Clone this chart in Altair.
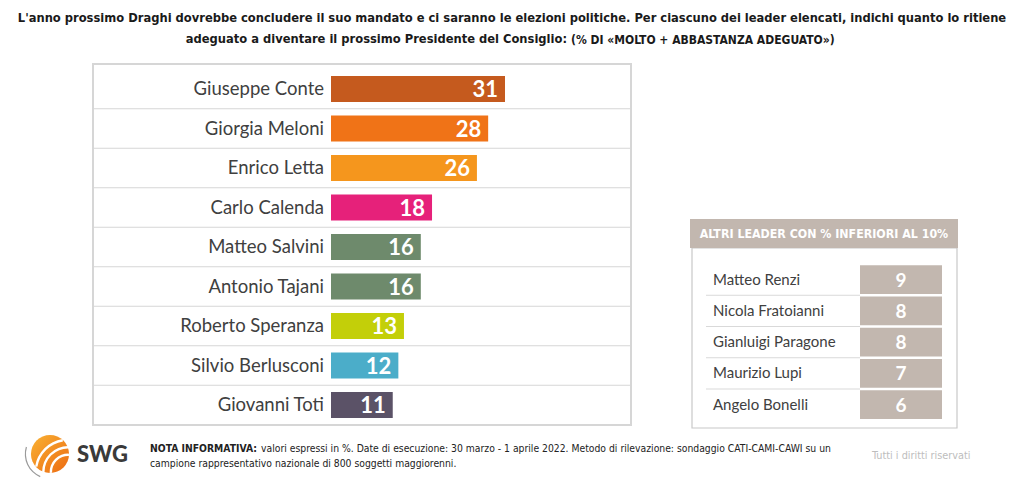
import altair as alt
import pandas as pd

# ---- data -------------------------------------------------------------
leaders = ["Giuseppe Conte", "Giorgia Meloni", "Enrico Letta", "Carlo Calenda",
           "Matteo Salvini", "Antonio Tajani", "Roberto Speranza",
           "Silvio Berlusconi", "Giovanni Toti"]
scores = [31, 28, 26, 18, 16, 16, 13, 12, 11]
bar_colors = ["#C55A1E", "#F07317", "#F5961D", "#E6217A", "#6E8A6C",
              "#6E8A6C", "#C3CF09", "#4BADC9", "#5B5267"]

others = ["Matteo Renzi", "Nicola Fratoianni", "Gianluigi Paragone",
          "Maurizio Lupi", "Angelo Bonelli"]
other_scores = [9, 8, 8, 7, 6]

title_1 = ("L'anno prossimo Draghi dovrebbe concludere il suo mandato e ci saranno le elezioni "
           "politiche. Per ciascuno dei leader elencati, indichi quanto lo ritiene")
title_2a = "adeguato a diventare il prossimo Presidente del Consiglio:"
title_2b = "(% DI «MOLTO + ABBASTANZA ADEGUATO»)"
box_title = "ALTRI LEADER CON % INFERIORI AL 10%"
note_bold = "NOTA INFORMATIVA:"
note_1 = ("valori espressi in %. Date di esecuzione: 30 marzo - 1 aprile 2022. Metodo di "
          "rilevazione: sondaggio CATI-CAMI-CAWI su un")
note_2 = "campione rappresentativo nazionale di 800 soggetti maggiorenni."
rights = "Tutti i diritti riservati"
brand = "SWG"

NARROW = "DejaVu Sans Condensed, DejaVu Sans, sans-serif"
BODY = "Lato, Open Sans, sans-serif"
TEXT_GREY = "#404040"

main = pd.DataFrame({"name": leaders, "value": scores, "color": bar_colors})
minor = pd.DataFrame({"name": others, "value": other_scores})


def one(text):
    return pd.DataFrame({"t": [text]})


# ---- scales -----------------------------------------------------------
x_main = alt.Scale(domain=[0, 31], range=[331, 505], nice=False, zero=True)
y_bars = alt.Scale(domain=leaders, range=[69.25, 424.75],
                   paddingInner=0.34, paddingOuter=0.17)
y_rows = alt.Scale(domain=leaders, range=[69.25, 424.75],
                   paddingInner=0, paddingOuter=0)
y_boxes = alt.Scale(domain=others, range=[264, 420.25],
                    paddingInner=0.08, paddingOuter=0.04)
y_box_rows = alt.Scale(domain=others, range=[264, 420.25],
                       paddingInner=0, paddingOuter=0)

# ---- main panel -------------------------------------------------------
panel = alt.Chart(one("")).mark_rect(fill="white", stroke="#D6D6D6", strokeWidth=2).encode(
    x=alt.value(93), x2=alt.value(631), y=alt.value(64), y2=alt.value(425))

row_lines = alt.Chart(main.iloc[1:]).mark_rule(color="#D6D6D6", strokeWidth=1.2).encode(
    y=alt.Y("name:N", scale=y_rows, axis=None, bandPosition=0),
    x=alt.value(93), x2=alt.value(631))

bars = alt.Chart(main).mark_bar().encode(
    x=alt.X("value:Q", scale=x_main, axis=None),
    y=alt.Y("name:N", scale=y_bars, axis=None),
    color=alt.Color("color:N", scale=None, legend=None))

names = alt.Chart(main).mark_text(align="right", baseline="middle", font=BODY,
                                  fontSize=18.5, color=TEXT_GREY).encode(
    x=alt.value(324),
    y=alt.Y("name:N", scale=y_bars, axis=None),
    text="name:N")

values = alt.Chart(main).mark_text(align="right", baseline="middle", font=BODY,
                                   fontSize=22, fontWeight="bold", color="white",
                                   dx=-7, dy=1).encode(
    x=alt.X("value:Q", scale=x_main, axis=None),
    y=alt.Y("name:N", scale=y_bars, axis=None),
    text="value:Q")

# ---- side table -------------------------------------------------------
side_frame = alt.Chart(one("")).mark_rect(fill="white", stroke="#C8C8C8", strokeWidth=1.2).encode(
    x=alt.value(692), x2=alt.value(957), y=alt.value(248), y2=alt.value(428))

side_head = alt.Chart(one("")).mark_rect(fill="#C2B7AF").encode(
    x=alt.value(690), x2=alt.value(958), y=alt.value(219), y2=alt.value(248))

side_head_text = alt.Chart(one(box_title)).mark_text(
    align="center", baseline="middle", font=NARROW, fontSize=12.3,
    fontWeight="bold", color="white").encode(
    x=alt.value(824), y=alt.value(234), text="t:N")

side_lines = alt.Chart(minor.iloc[1:]).mark_rule(color="#D9D9D9", strokeWidth=1.2).encode(
    y=alt.Y("name:N", scale=y_box_rows, axis=None, bandPosition=0),
    x=alt.value(706), x2=alt.value(860))

side_cells = alt.Chart(minor).mark_rect(fill="#C2B7AF").encode(
    y=alt.Y("name:N", scale=y_boxes, axis=None),
    x=alt.value(860), x2=alt.value(942))

side_names = alt.Chart(minor).mark_text(align="left", baseline="middle", font=BODY,
                                        fontSize=15, color=TEXT_GREY).encode(
    x=alt.value(713),
    y=alt.Y("name:N", scale=y_boxes, axis=None),
    text="name:N")

side_values = alt.Chart(minor).mark_text(align="center", baseline="middle", font=BODY,
                                         fontSize=19, fontWeight="bold",
                                         color="white", dy=1).encode(
    x=alt.value(901),
    y=alt.Y("name:N", scale=y_boxes, axis=None),
    text="value:Q")

# ---- heading ----------------------------------------------------------
head_1 = alt.Chart(one(title_1)).mark_text(
    align="center", baseline="middle", font=NARROW, fontSize=12.8,
    fontWeight="bold", color="#1A1A1A").encode(
    x=alt.value(512), y=alt.value(18), text="t:N")

head_2a = alt.Chart(one(title_2a)).mark_text(
    align="right", baseline="middle", font=NARROW, fontSize=12.8,
    fontWeight="bold", color="#1A1A1A").encode(
    x=alt.value(567), y=alt.value(39), text="t:N")

head_2b = alt.Chart(one(title_2b)).mark_text(
    align="left", baseline="middle", font=NARROW, fontSize=12,
    fontWeight="bold", color="#1A1A1A").encode(
    x=alt.value(571), y=alt.value(40), text="t:N")

# ---- footer -----------------------------------------------------------
globe = alt.Chart(one("")).mark_point(
    shape="circle", filled=True, size=1450, opacity=1,
    color=alt.Gradient(gradient="linear",
                       stops=[alt.GradientStop(color="#F9B233", offset=0),
                              alt.GradientStop(color="#EC6A12", offset=1)],
                       x1=0, x2=1, y1=0, y2=1)).encode(
    x=alt.value(50), y=alt.value(454))

stripes = [
    alt.Chart(one("")).mark_arc(radius=r, radius2=r + 2.4, theta=t0, theta2=t1,
                                color="white").encode(x=alt.value(68), y=alt.value(472))
    for r, t0, t1 in [(16, 4.66, 6.34), (23.5, 4.70, 6.30), (31, 4.88, 6.12)]
]

orbit = alt.Chart(one("")).mark_arc(radius=24, radius2=25.2, theta=3.55, theta2=5.0,
                                    color="#9A9A9A").encode(
    x=alt.value(50), y=alt.value(454))

brand_text = alt.Chart(one(brand)).mark_text(
    align="left", baseline="middle", font="Lato, DejaVu Sans, sans-serif", fontSize=22,
    fontWeight=900, color="#3A3A3A").encode(
    x=alt.value(77), y=alt.value(455), text="t:N")

note_b = alt.Chart(one(note_bold)).mark_text(
    align="left", baseline="middle", font=NARROW, fontSize=10.3,
    fontWeight="bold", color="#222222").encode(
    x=alt.value(150), y=alt.value(449), text="t:N")

note_t1 = alt.Chart(one(note_1)).mark_text(
    align="left", baseline="middle", font=NARROW, fontSize=10.3,
    color="#222222").encode(
    x=alt.value(261), y=alt.value(449), text="t:N")

note_t2 = alt.Chart(one(note_2)).mark_text(
    align="left", baseline="middle", font=NARROW, fontSize=10.3,
    color="#222222").encode(
    x=alt.value(150), y=alt.value(464), text="t:N")

rights_text = alt.Chart(one(rights)).mark_text(
    align="left", baseline="middle", font=NARROW, fontSize=10.8,
    color="#BDBDBD").encode(
    x=alt.value(872), y=alt.value(456), text="t:N")

chart = alt.layer(
    panel, row_lines, bars, names, values,
    side_frame, side_head, side_head_text, side_lines, side_cells, side_names, side_values,
    head_1, head_2a, head_2b,
    globe, *stripes, orbit, brand_text, note_b, note_t1, note_t2, rights_text,
).resolve_scale(
    x="independent", y="independent", color="independent"
).properties(
    width=1024, height=482, padding=0, autosize="none", background="white"
).configure_view(stroke=None)

chart.save("out.html", embed_options={"renderer": "svg", "actions": False})
